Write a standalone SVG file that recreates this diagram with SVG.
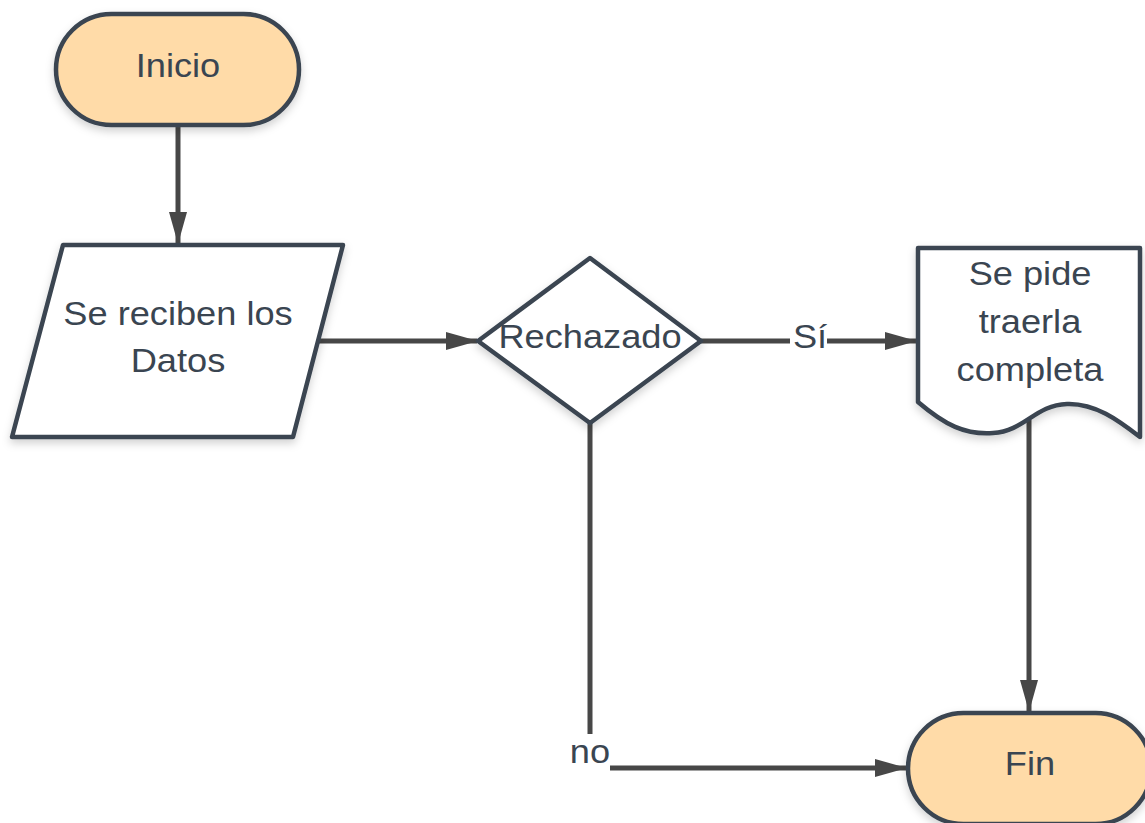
<svg xmlns="http://www.w3.org/2000/svg" width="1145" height="823" viewBox="0 0 1145 823">
<defs>
<style>
.shape{stroke:#3a4551;stroke-width:4.5;stroke-linejoin:round;filter:url(#sh)}
.term{fill:#ffdba8}
.box{fill:#ffffff}
.txt{font-family:"Liberation Sans",Arial,sans-serif;font-size:34px;fill:#3a4551;text-anchor:middle}
.conn{stroke:#474747;stroke-width:5;fill:none}
</style>
<filter id="sh" x="-10%" y="-10%" width="130%" height="130%">
<feDropShadow dx="0" dy="4" stdDeviation="4" flood-color="#000" flood-opacity="0.18"/>
</filter>
<marker id="arr" markerUnits="userSpaceOnUse" markerWidth="32" markerHeight="18" refX="31" refY="9" orient="auto">
<path d="M0,0 L32,9 L0,18 z" fill="#474747"/>
</marker>
</defs>
<rect width="1145" height="823" fill="#ffffff"/>
<g id="connectors">
<line class="conn" x1="178" y1="127" x2="178" y2="243" marker-end="url(#arr)"/>
<line class="conn" x1="318" y1="341" x2="477" y2="341" marker-end="url(#arr)"/>
<line class="conn" x1="701" y1="341" x2="916" y2="341" marker-end="url(#arr)"/>
<line class="conn" x1="1029" y1="420" x2="1029" y2="711" marker-end="url(#arr)"/>
<polyline class="conn" points="590,423 590,768 906,768" marker-end="url(#arr)"/>
<rect x="790" y="320" width="37" height="40" fill="#ffffff"/>
<g transform="translate(810,0) scale(1.065,1)"><text class="txt" x="0" y="348">Sí</text></g>
<rect x="566" y="734" width="44" height="42" fill="#ffffff"/>
<g transform="translate(590,0) scale(1.065,1)"><text class="txt" x="0" y="763">no</text></g>
</g>
<g id="inicio">
<rect class="shape term" x="56" y="14" width="243" height="111" rx="55.5"/>
<g transform="translate(178,0) scale(1.065,1)"><text class="txt" x="0" y="77">Inicio</text></g>
</g>
<g id="datos">
<polygon class="shape box" points="63,245 343,245 293,437 12,437"/>
<g transform="translate(178,0) scale(1.065,1)">
<text class="txt" x="0" y="325">Se reciben los</text>
<text class="txt" x="0" y="372">Datos</text>
</g>
</g>
<g id="rechazado">
<polygon class="shape box" points="590,258 701,341 590,423 478,341"/>
<g transform="translate(590,0) scale(1.065,1)"><text class="txt" x="0" y="348">Rechazado</text></g>
</g>
<g id="documento">
<path class="shape box" d="M918,248 H1140 V437 C1118,420 1095,403 1067,404 C1035,405 1025,431 993,433 C965,435 945,425 918,402 Z"/>
<g transform="translate(1030,0) scale(1.065,1)">
<text class="txt" x="0" y="285">Se pide</text>
<text class="txt" x="0" y="333">traerla</text>
<text class="txt" x="0" y="381">completa</text>
</g>
</g>
<g id="fin">
<rect class="shape term" x="908" y="713" width="243" height="111" rx="55.5"/>
<g transform="translate(1030,0) scale(1.065,1)"><text class="txt" x="0" y="775">Fin</text></g>
</g>
</svg>
